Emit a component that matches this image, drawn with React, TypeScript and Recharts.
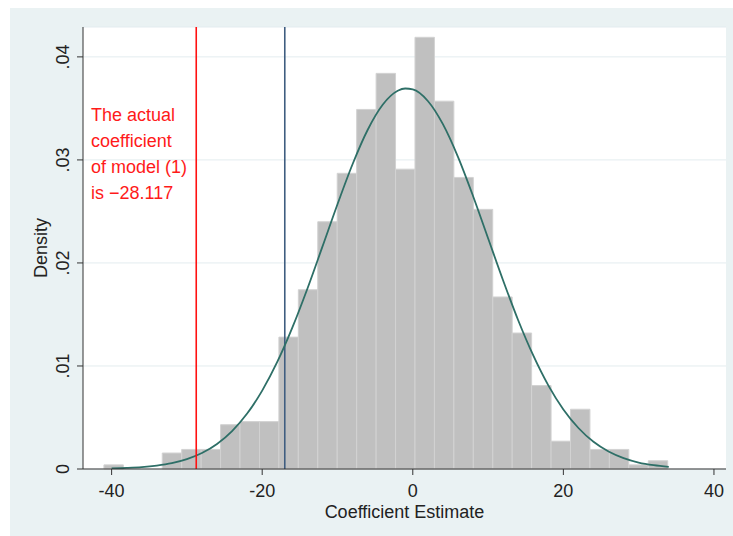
import { ComposedChart, Line, XAxis, YAxis, CartesianGrid, ReferenceArea, ReferenceLine } from 'recharts';

// histogram of placebo estimates: 29 bins, width ~2.58, first edge ~-41.0
const binStart = -41.02;
const binWidth = 2.582;
const binDensity = [
  0.0004, 0, 0, 0.00155, 0.0019, 0.0019, 0.0043, 0.0046, 0.0046, 0.0128,
  0.0174, 0.024, 0.0287, 0.0349, 0.0384, 0.0291, 0.0419, 0.0357, 0.0283, 0.0252,
  0.0167, 0.0132, 0.0081, 0.0027, 0.0058, 0.0019, 0.0019, 0.0004, 0.0008,
];

// normal density overlay
const curveX = [
  -40, -38, -36, -34, -32, -30, -28, -26, -24, -22, -20, -18, -16, -14, -12, -10, -8, -6, -4,
  -2, -1, 0, 2, 4, 6, 8, 10, 12, 14, 16, 18, 20, 22, 24, 26, 28, 30, 32, 34,
];
const curveDensity = [
  0.00005, 0.0001, 0.00018, 0.00033, 0.00057, 0.00096, 0.00155, 0.00243, 0.00368, 0.00538,
  0.00761, 0.01039, 0.01372, 0.0175, 0.02158, 0.0257, 0.02958, 0.0329, 0.03535, 0.03671,
  0.03693, 0.03684, 0.03572, 0.03347, 0.0303, 0.0265, 0.0224, 0.0183, 0.01444, 0.01102,
  0.00812, 0.00578, 0.00398, 0.00264, 0.0017, 0.00106, 0.00063, 0.00037, 0.00021,
];

const xTicks = [-40, -20, 0, 20, 40];
const yTicks = [0, 0.01, 0.02, 0.03, 0.04];
const actualLineX = -28.76;
const placeboLineX = -17;
const noteLines = ['The actual', 'coefficient', 'of model (1)', 'is \u221228.117'];

const FONT = '"Liberation Sans", Arial, Helvetica, sans-serif';

const curveData = curveX.map((x, i) => ({ x, d: curveDensity[i] }));
const bins = binDensity.map((d, i) => ({
  x1: binStart + i * binWidth,
  x2: binStart + (i + 1) * binWidth,
  d,
}));

const fmtY = (v: number) => (v === 0 ? '0' : v.toFixed(2).replace(/^0/, ''));

const XTick = (props: any) => {
  const { x, y, payload } = props;
  return (
    <text x={x} y={y + 19} textAnchor="middle" fontSize={18} fontFamily={FONT} fill="#222">
      {payload.value}
    </text>
  );
};

const YTick = (props: any) => {
  const { x, y, payload } = props;
  return (
    <text
      transform={`translate(${x}, ${y}) rotate(-90)`}
      textAnchor="middle"
      fontSize={18}
      fontFamily={FONT}
      fill="#222"
    >
      {fmtY(payload.value)}
    </text>
  );
};

const YLabel = (props: any) => {
  const { viewBox } = props;
  const cy = viewBox.y + viewBox.height / 2;
  return (
    <text
      transform={`translate(${viewBox.x + 4}, ${cy}) rotate(-90)`}
      textAnchor="middle"
      fontSize={18}
      fontFamily={FONT}
      fill="#222"
    >
      Density
    </text>
  );
};

const XLabel = (props: any) => {
  const { viewBox } = props;
  return (
    <text
      x={viewBox.x + viewBox.width / 2}
      y={viewBox.y + 49}
      textAnchor="middle"
      fontSize={18}
      fontFamily={FONT}
      fill="#222"
    >
      Coefficient Estimate
    </text>
  );
};

export default function App() {
  return (
    <div style={{ position: 'absolute', left: 0, top: 0, width: 733, height: 536, background: '#fff' }}>
      <div
        style={{ position: 'absolute', left: 10, top: 8, width: 723, height: 528, background: '#EAF2F3' }}
      />
      <div style={{ position: 'absolute', left: 0, top: 0 }}>
        <ComposedChart
          width={733}
          height={536}
          data={curveData}
          margin={{ top: 27, right: 7, left: 43, bottom: 37 }}
        >
          <CartesianGrid vertical={false} fill="#fff" stroke="#E3ECEF" strokeWidth={1} />
          <XAxis
            dataKey="x"
            type="number"
            domain={[-43.8, 41.6]}
            ticks={xTicks}
            allowDataOverflow
            height={30}
            tickSize={6}
            tickMargin={3}
            stroke="#333"
            tick={<XTick />}
            label={<XLabel />}
          />
          <YAxis
            type="number"
            domain={[0, 0.0429]}
            ticks={yTicks}
            allowDataOverflow
            width={40}
            tickSize={6}
            tickMargin={8}
            stroke="#333"
            tick={<YTick />}
            label={<YLabel />}
          />
          {bins
            .filter((b) => b.d > 0)
            .map((b, i) => (
              <ReferenceArea
                key={i}
                x1={b.x1}
                x2={b.x2}
                y1={0}
                y2={b.d}
                fill="#C0C0C0"
                fillOpacity={1}
                stroke="#D2D2D2"
                strokeWidth={1}
              />
            ))}
          <ReferenceLine x={placeboLineX} stroke="#3F5D80" strokeWidth={1.6} />
          <Line
            dataKey="d"
            type="monotone"
            stroke="#2E6F67"
            strokeWidth={1.8}
            dot={false}
            activeDot={false}
            isAnimationActive={false}
          />
          <ReferenceLine x={actualLineX} stroke="#FF1010" strokeWidth={1.6} />
        </ComposedChart>
      </div>
      <div
        style={{
          position: 'absolute',
          left: 91,
          top: 102,
          fontFamily: FONT,
          fontSize: 18,
          lineHeight: '26px',
          color: '#FF1A1A',
          whiteSpace: 'pre',
        }}
      >
        {noteLines.map((t, i) => (
          <div key={i}>{t}</div>
        ))}
      </div>
    </div>
  );
}
